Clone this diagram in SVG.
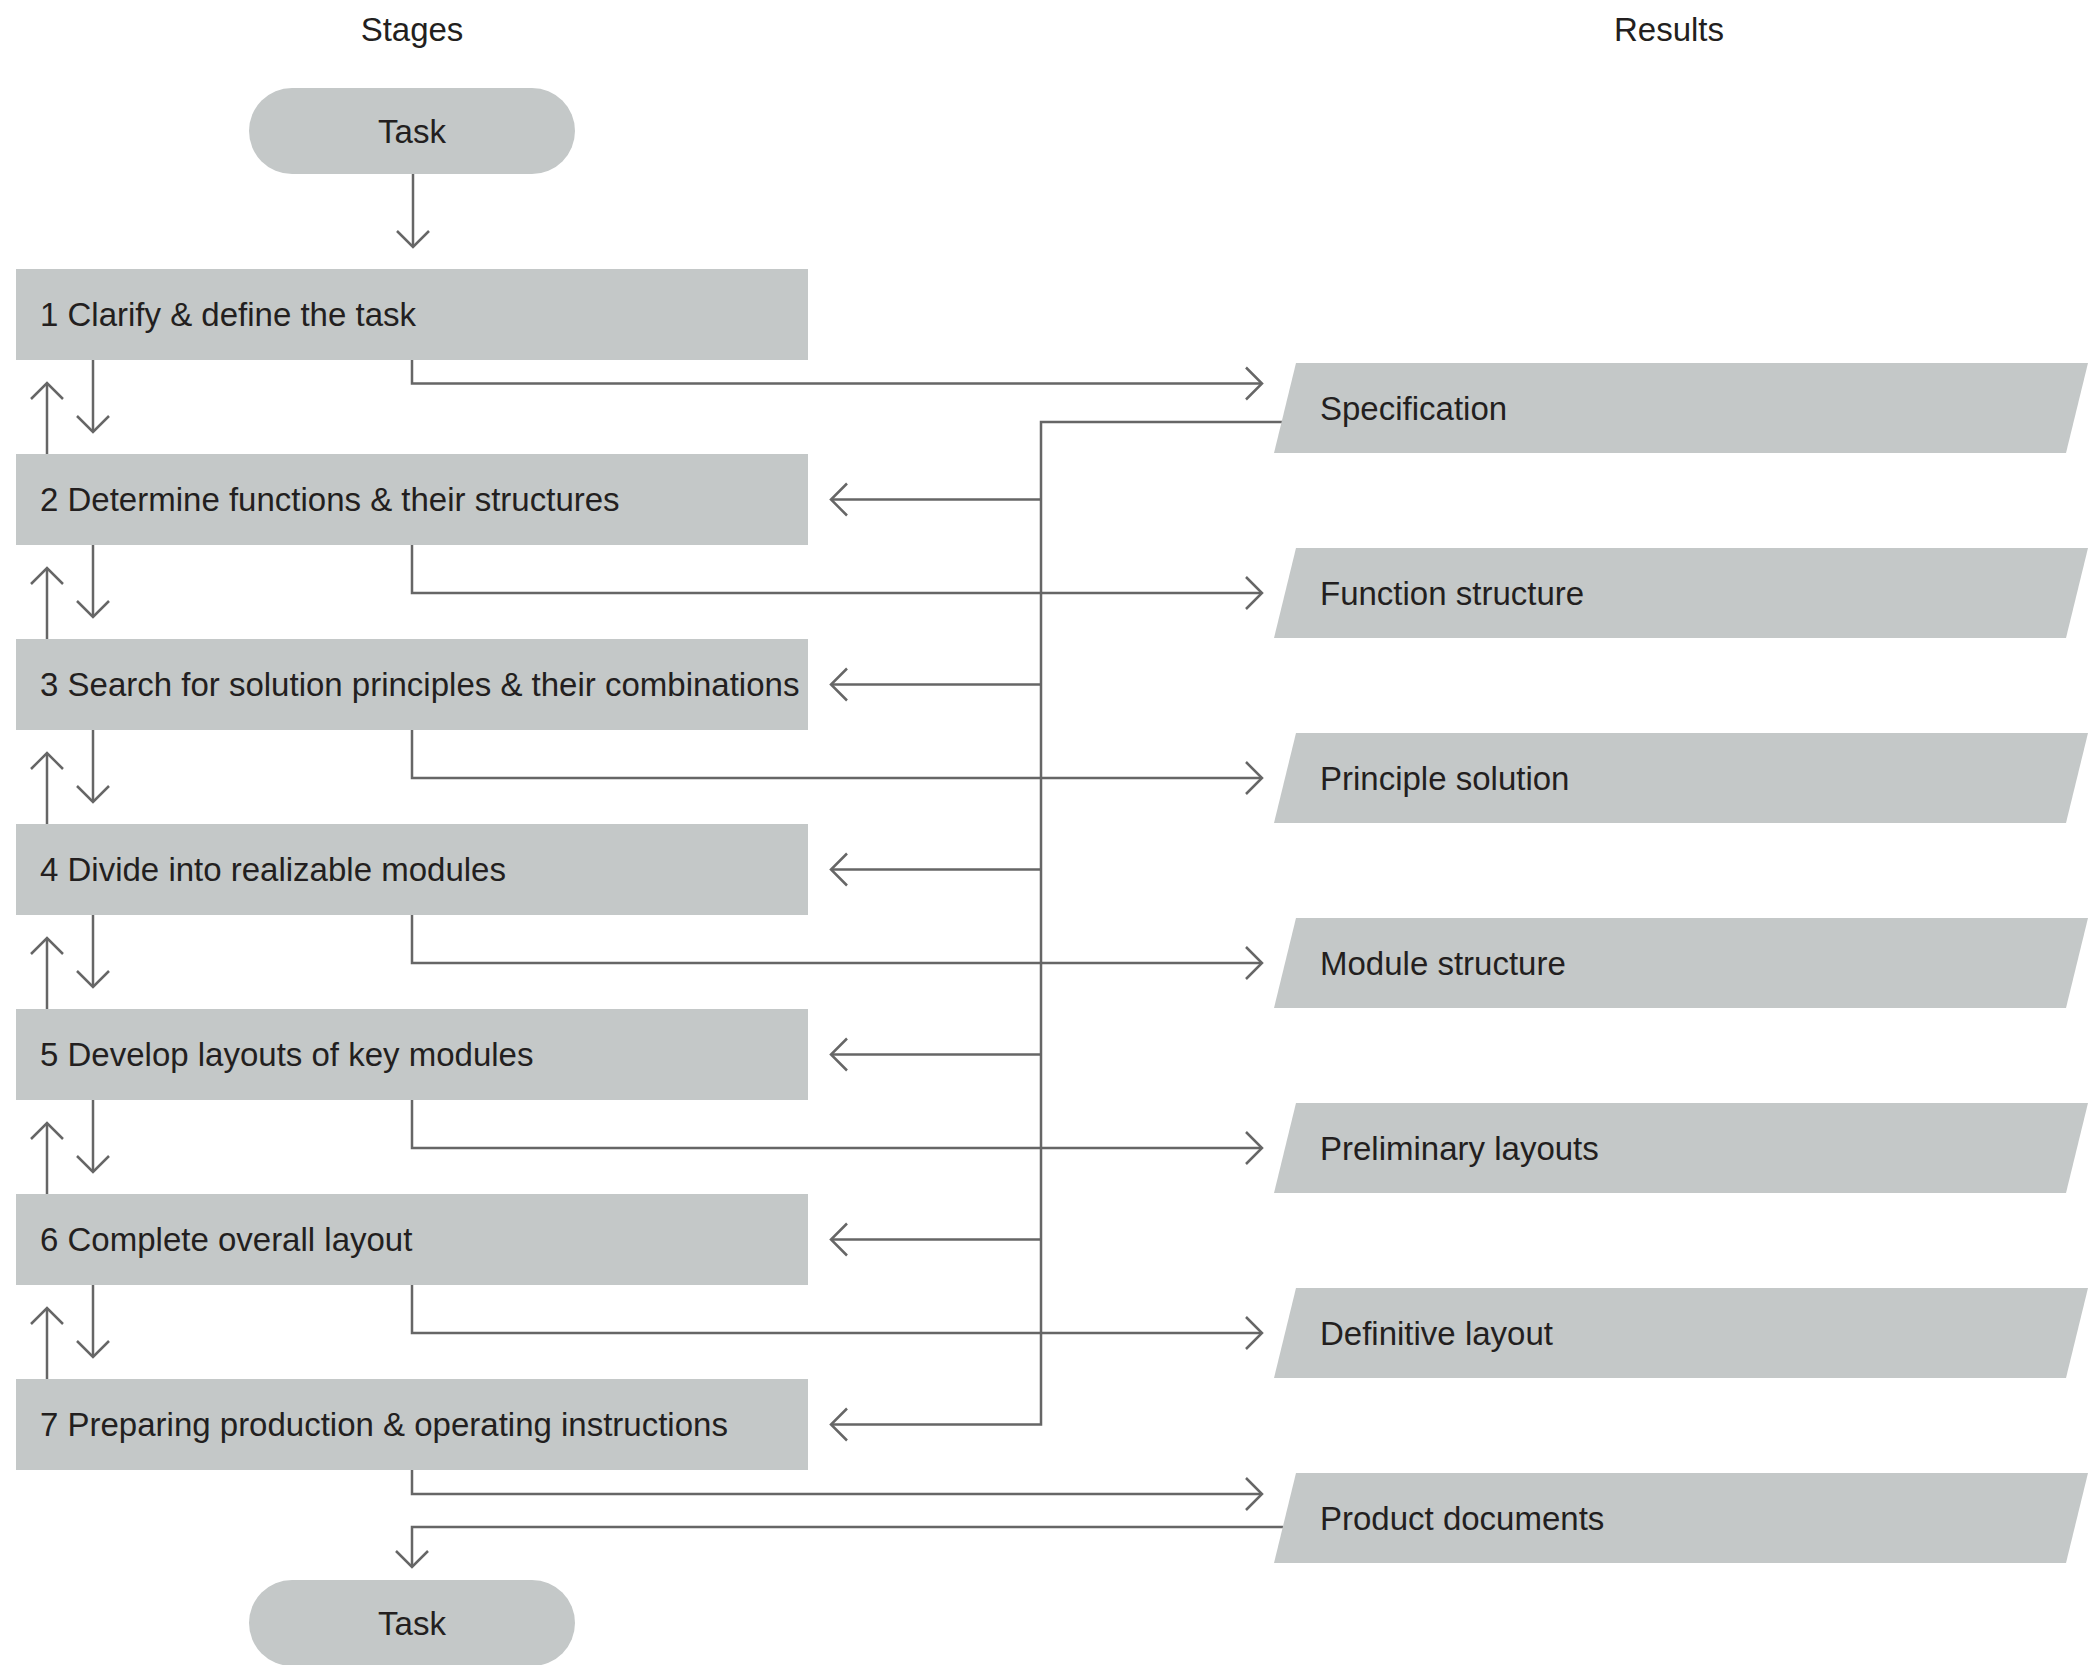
<svg xmlns="http://www.w3.org/2000/svg" width="2088" height="1665" viewBox="0 0 2088 1665">
  <style>
    .txt { font-family: "Liberation Sans", Arial, sans-serif; font-size: 33px; fill: #231f20; }
    .mid { text-anchor: middle; }
    .stage { fill: #c4c8c8; }
    .result { fill: #c4c8c8; }
    .term { fill: #c4c8c8; }
    .conn { fill: none; stroke: #666666; stroke-width: 2.5; }
    .arr { marker-end: url(#chev); }
  </style>
  <defs>
    <marker id="chev" viewBox="-22 -20 26 40" markerWidth="26" markerHeight="40" refX="0" refY="0" orient="auto" markerUnits="userSpaceOnUse">
      <path d="M-16,-16 L0,0 L-16,16" fill="none" stroke="#666666" stroke-width="2.5" stroke-linejoin="miter"/>
    </marker>
  </defs>

  <rect width="2088" height="1665" fill="#ffffff"/>

  <!-- column headings -->
  <text class="txt mid" x="412" y="41">Stages</text>
  <text class="txt mid" x="1669" y="41">Results</text>

  <!-- connectors -->
  <g id="connectors">
    <!-- start terminal into stage 1 -->
    <path class="conn arr" d="M413,174 V247"/>

    <!-- stage to stage (forward and back) -->
    <path class="conn arr" d="M93,360 V432"/>
    <path class="conn arr" d="M47,454 V383"/>
    <path class="conn arr" d="M93,545 V617"/>
    <path class="conn arr" d="M47,639 V568"/>
    <path class="conn arr" d="M93,730 V802"/>
    <path class="conn arr" d="M47,824 V753"/>
    <path class="conn arr" d="M93,915 V987"/>
    <path class="conn arr" d="M47,1009 V938"/>
    <path class="conn arr" d="M93,1100 V1172"/>
    <path class="conn arr" d="M47,1194 V1123"/>
    <path class="conn arr" d="M93,1285 V1357"/>
    <path class="conn arr" d="M47,1379 V1308"/>

    <!-- stage outputs to results -->
    <path class="conn arr" d="M412,360 V383.5 H1262"/>
    <path class="conn arr" d="M412,545 V593 H1262"/>
    <path class="conn arr" d="M412,730 V778 H1262"/>
    <path class="conn arr" d="M412,915 V963 H1262"/>
    <path class="conn arr" d="M412,1100 V1148 H1262"/>
    <path class="conn arr" d="M412,1285 V1333 H1262"/>
    <path class="conn arr" d="M412,1470 V1494 H1262"/>

    <!-- specification fed back to later stages -->
    <path class="conn arr" d="M1282,422 H1041 V1424.5 H831"/>
    <path class="conn arr" d="M1041,499.5 H831"/>
    <path class="conn arr" d="M1041,684.5 H831"/>
    <path class="conn arr" d="M1041,869.5 H831"/>
    <path class="conn arr" d="M1041,1054.5 H831"/>
    <path class="conn arr" d="M1041,1239.5 H831"/>

    <!-- product documents to end terminal -->
    <path class="conn arr" d="M1283,1527 H412 V1567"/>
  </g>

  <!-- terminals -->
  <g id="task-start">
    <rect class="term" x="249" y="88" width="326" height="86" rx="43" ry="43"/>
    <text class="txt mid" x="412" y="143">Task</text>
  </g>
  <g id="task-end">
    <rect class="term" x="249" y="1580" width="326" height="86" rx="43" ry="43"/>
    <text class="txt mid" x="412" y="1635">Task</text>
  </g>

  <!-- stages -->
  <g id="stage-1">
    <rect class="stage" x="16" y="269" width="792" height="91"/>
    <text class="txt" x="40" y="326">1 Clarify &amp; define the task</text>
  </g>
  <g id="stage-2">
    <rect class="stage" x="16" y="454" width="792" height="91"/>
    <text class="txt" x="40" y="511">2 Determine functions &amp; their structures</text>
  </g>
  <g id="stage-3">
    <rect class="stage" x="16" y="639" width="792" height="91"/>
    <text class="txt" x="40" y="696">3 Search for solution principles &amp; their combinations</text>
  </g>
  <g id="stage-4">
    <rect class="stage" x="16" y="824" width="792" height="91"/>
    <text class="txt" x="40" y="881">4 Divide into realizable modules</text>
  </g>
  <g id="stage-5">
    <rect class="stage" x="16" y="1009" width="792" height="91"/>
    <text class="txt" x="40" y="1066">5 Develop layouts of key modules</text>
  </g>
  <g id="stage-6">
    <rect class="stage" x="16" y="1194" width="792" height="91"/>
    <text class="txt" x="40" y="1251">6 Complete overall layout</text>
  </g>
  <g id="stage-7">
    <rect class="stage" x="16" y="1379" width="792" height="91"/>
    <text class="txt" x="40" y="1436">7 Preparing production &amp; operating instructions</text>
  </g>

  <!-- results -->
  <g id="result-1">
    <polygon class="result" points="1296,363 2088,363 2066,453 1274,453"/>
    <text class="txt" x="1320" y="420">Specification</text>
  </g>
  <g id="result-2">
    <polygon class="result" points="1296,548 2088,548 2066,638 1274,638"/>
    <text class="txt" x="1320" y="605">Function structure</text>
  </g>
  <g id="result-3">
    <polygon class="result" points="1296,733 2088,733 2066,823 1274,823"/>
    <text class="txt" x="1320" y="790">Principle solution</text>
  </g>
  <g id="result-4">
    <polygon class="result" points="1296,918 2088,918 2066,1008 1274,1008"/>
    <text class="txt" x="1320" y="975">Module structure</text>
  </g>
  <g id="result-5">
    <polygon class="result" points="1296,1103 2088,1103 2066,1193 1274,1193"/>
    <text class="txt" x="1320" y="1160">Preliminary layouts</text>
  </g>
  <g id="result-6">
    <polygon class="result" points="1296,1288 2088,1288 2066,1378 1274,1378"/>
    <text class="txt" x="1320" y="1345">Definitive layout</text>
  </g>
  <g id="result-7">
    <polygon class="result" points="1296,1473 2088,1473 2066,1563 1274,1563"/>
    <text class="txt" x="1320" y="1530">Product documents</text>
  </g>
</svg>
